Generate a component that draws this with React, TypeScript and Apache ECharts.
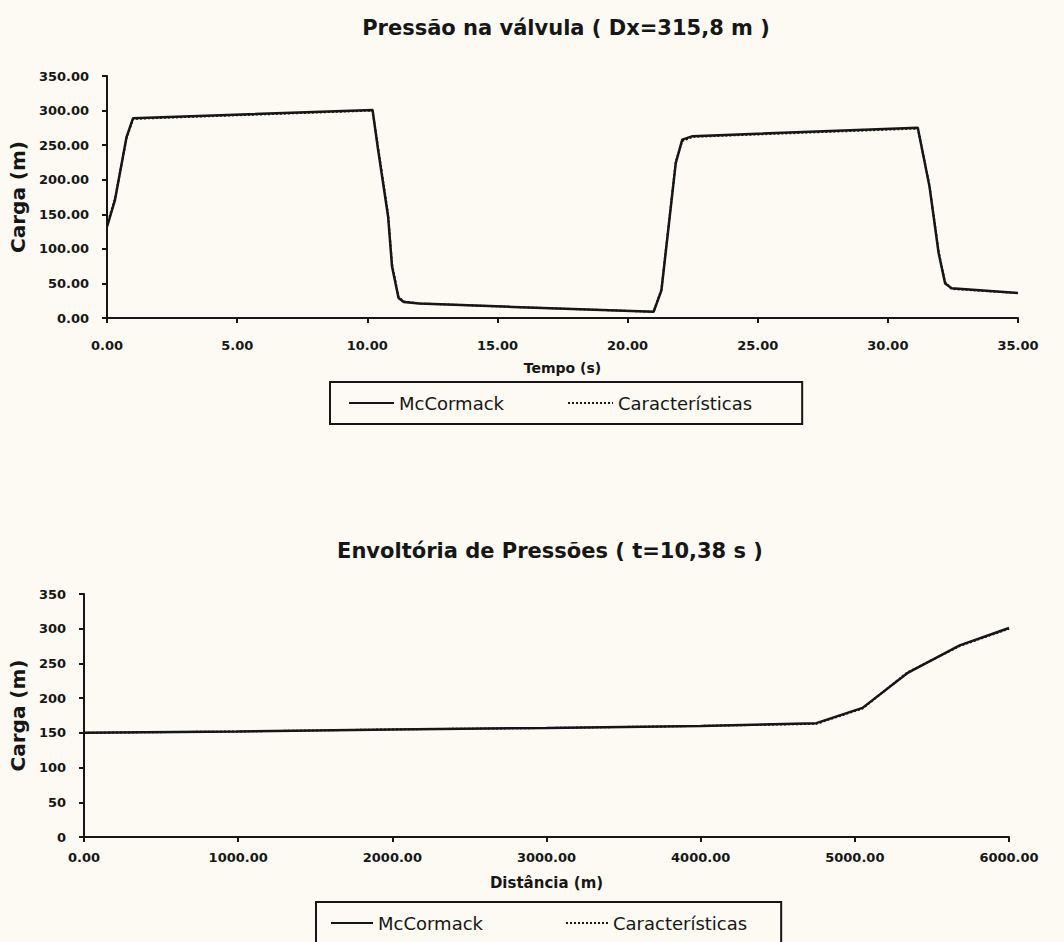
import React, { useEffect, useRef } from 'react';
import * as echarts from 'echarts';

// ---- Chart 1: Pressão na válvula ----
const tempo = [0, 0.3, 0.75, 1.0, 10.2, 10.4, 10.8, 10.95, 11.2, 11.4, 12.0, 15.6, 21.0, 21.3, 21.85, 22.1, 22.5, 31.15, 31.6, 31.95, 32.2, 32.45, 35];
const cargaTempoMcCormack = [132, 170, 262, 289, 301, 247, 146, 74, 29, 23, 21, 16, 9, 40, 224, 258, 263, 275, 190, 94, 50, 43, 36];
const cargaTempoCaracteristicas = [135, 172, 260, 288, 300, 250, 150, 78, 30, 24, 21, 16, 9, 42, 226, 256, 262, 274, 192, 96, 52, 42, 36];
const tempoTicks = { min: 0, max: 35, interval: 5 };
const cargaTicks1 = { min: 0, max: 350, interval: 50 };

// ---- Chart 2: Envoltória de Pressões ----
const distancia = [0, 1000, 2000, 3000, 4000, 4750, 5050, 5340, 5680, 6000];
const cargaDistMcCormack = [150, 152, 155, 157, 160, 164, 186, 236, 276, 301];
const cargaDistCaracteristicas = [150, 152, 155, 157, 160, 163, 185, 237, 275, 300];
const distTicks = { min: 0, max: 6000, interval: 1000 };
const cargaTicks2 = { min: 0, max: 350, interval: 50 };

const zip = (xs: number[], ys: number[]) => xs.map((x, i) => [x, ys[i]]);

const INK = '#161616';
const FONT = '"DejaVu Sans", sans-serif';

function mainAxis(extra: any) {
  return {
    type: 'value',
    axisLine: { show: true, lineStyle: { color: INK, width: 2 } },
    axisTick: { show: true, length: 5, lineStyle: { color: INK, width: 2 } },
    splitLine: { show: false },
    nameTextStyle: { fontFamily: FONT, fontWeight: 'bold', color: INK },
    ...extra,
    axisLabel: { fontFamily: FONT, fontWeight: 'bold', fontSize: 13, color: INK, ...(extra.axisLabel || {}) },
  };
}
function dupAxis(extra: any) {
  return {
    type: 'value',
    axisLine: { show: false },
    axisTick: { show: true, inside: true, length: 5, lineStyle: { color: INK, width: 2 } },
    axisLabel: { show: false },
    splitLine: { show: false },
    ...extra,
  };
}

function legendOpt(left: number, top: number, padding: number[], itemGap: number, itemWidth: number) {
  return {
    left, top, orient: 'horizontal',
    padding, itemGap, itemWidth, itemHeight: 14,
    borderColor: INK, borderWidth: 2, borderRadius: 0,
    itemStyle: { opacity: 0 },
    textStyle: { fontFamily: FONT, fontSize: 18, color: INK },
    data: ['McCormack', 'Características'],
  };
}

export default function App() {
  const ref = useRef<HTMLDivElement>(null);
  useEffect(() => {
    if (!ref.current) return;
    const chart = echarts.init(ref.current, null, { renderer: 'svg' });
    const option: any = {
      animation: false,
      backgroundColor: '#fcfaf2',
      title: [
        {
          text: 'Pressão na válvula ( Dx=315,8 m )', left: 561, top: 12, textAlign: 'center',
          textStyle: { fontFamily: FONT, fontWeight: 'bold', fontSize: 21, color: INK },
        },
        {
          text: 'Envoltória de Pressões ( t=10,38 s )', left: 545, top: 535, textAlign: 'center',
          textStyle: { fontFamily: FONT, fontWeight: 'bold', fontSize: 21, color: INK },
        },
      ],
      legend: [
        legendOpt(330, 382, [12, 50, 12, 18], 63, 45),
        legendOpt(316, 902, [12, 34, 12, 14], 82, 42),
      ],
      grid: [
        { left: 107, top: 76, width: 911, height: 242 },
        { left: 84, top: 594, width: 925, height: 243 },
      ],
      xAxis: [
        mainAxis({
          gridIndex: 0, ...tempoTicks, name: 'Tempo (s)', nameLocation: 'middle', nameGap: 43,
          nameTextStyle: { fontFamily: FONT, fontWeight: 'bold', fontSize: 14, color: INK },
          axisLabel: { margin: 21, formatter: (v: number) => v.toFixed(2) },
        }),
        dupAxis({ gridIndex: 0, ...tempoTicks }),
        mainAxis({
          gridIndex: 1, ...distTicks, name: 'Distância (m)', nameLocation: 'middle', nameGap: 38,
          nameTextStyle: { fontFamily: FONT, fontWeight: 'bold', fontSize: 15, color: INK },
          axisLabel: { margin: 14, formatter: (v: number) => v.toFixed(2) },
        }),
        dupAxis({ gridIndex: 1, ...distTicks }),
      ],
      yAxis: [
        mainAxis({
          gridIndex: 0, ...cargaTicks1, name: 'Carga (m)', nameLocation: 'middle', nameGap: 77,
          nameTextStyle: { fontFamily: FONT, fontWeight: 'bold', fontSize: 20, color: INK },
          axisLabel: { margin: 18, formatter: (v: number) => v.toFixed(2) },
        }),
        dupAxis({ gridIndex: 0, ...cargaTicks1 }),
        mainAxis({
          gridIndex: 1, ...cargaTicks2, name: 'Carga (m)', nameLocation: 'middle', nameGap: 47,
          nameTextStyle: { fontFamily: FONT, fontWeight: 'bold', fontSize: 20, color: INK },
          axisLabel: { margin: 18, formatter: (v: number) => String(v) },
        }),
        dupAxis({ gridIndex: 1, ...cargaTicks2 }),
      ],
      series: [
        {
          type: 'line', name: 'Características', xAxisIndex: 0, yAxisIndex: 0,
          data: zip(tempo, cargaTempoCaracteristicas), symbol: 'none', z: 2,
          lineStyle: { color: INK, width: 2, type: 'dotted' }, itemStyle: { color: INK },
        },
        {
          type: 'line', name: 'McCormack', xAxisIndex: 0, yAxisIndex: 0,
          data: zip(tempo, cargaTempoMcCormack), symbol: 'none', z: 3,
          lineStyle: { color: INK, width: 2.5 }, itemStyle: { color: INK },
        },
        {
          type: 'line', name: 'Características', xAxisIndex: 2, yAxisIndex: 2,
          data: zip(distancia, cargaDistCaracteristicas), symbol: 'none', z: 2,
          lineStyle: { color: INK, width: 2, type: 'dotted' }, itemStyle: { color: INK },
        },
        {
          type: 'line', name: 'McCormack', xAxisIndex: 2, yAxisIndex: 2,
          data: zip(distancia, cargaDistMcCormack), symbol: 'none', z: 3,
          lineStyle: { color: INK, width: 2.5 }, itemStyle: { color: INK },
        },
      ],
    };
    chart.setOption(option);
    return () => chart.dispose();
  }, []);
  return (
    <div
      ref={ref}
      style={{ position: 'absolute', left: 0, top: 0, width: 1064, height: 942 }}
    />
  );
}
